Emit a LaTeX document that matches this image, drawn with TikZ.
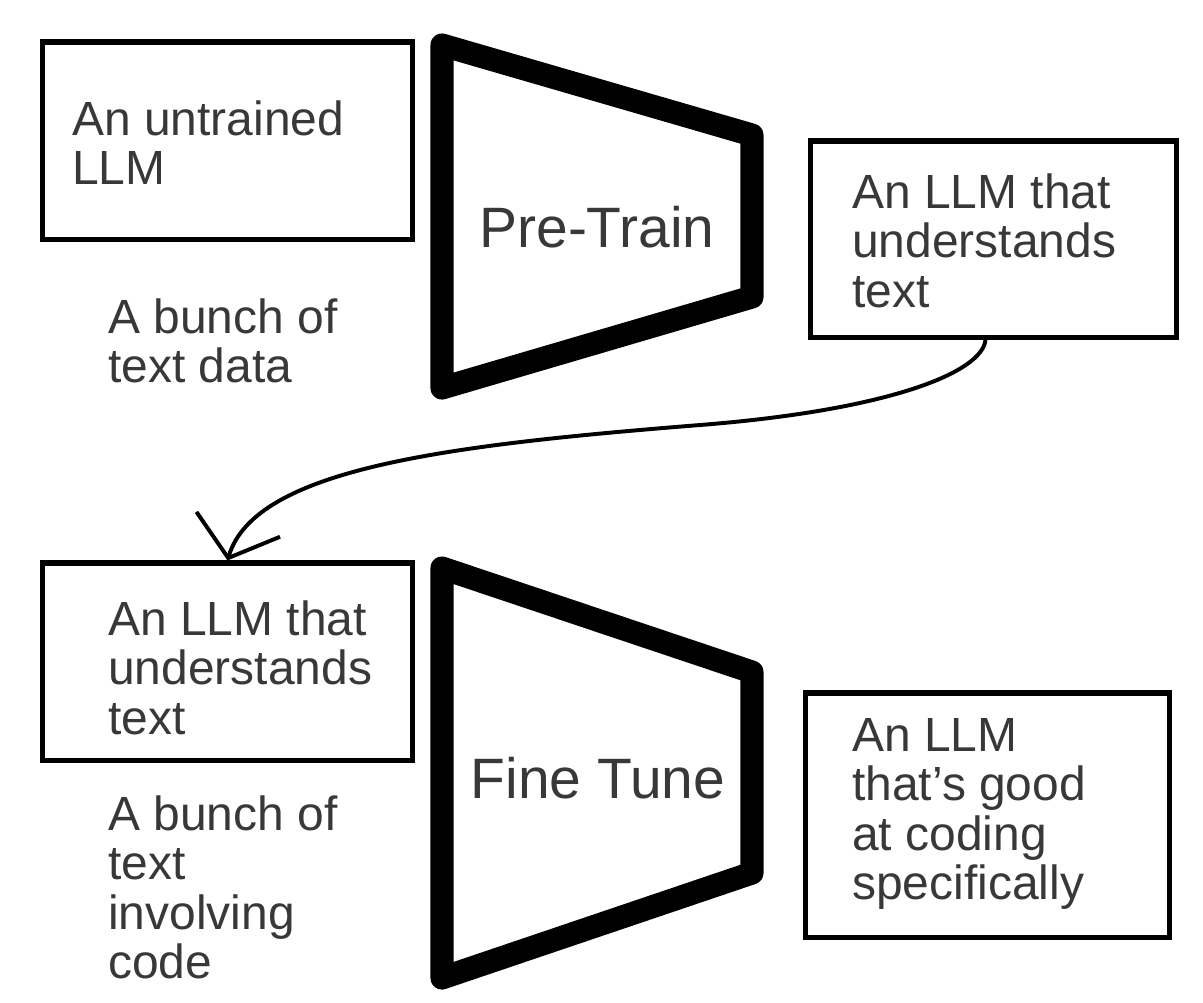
\documentclass[tikz,border=0pt]{standalone}
\usepackage{fontspec}
\setmainfont{Liberation Sans}
\usetikzlibrary{arrows.meta}
\definecolor{txtgray}{HTML}{383838}
\begin{document}
\begin{tikzpicture}[x=0.025cm, y=-0.025cm,
  box/.style={draw=black, line width=3.6pt, inner sep=0pt},
  lbl/.style={text=txtgray, align=left, inner sep=0pt, font=\fontsize{34.1}{35.2}\selectfont},
  big/.style={text=txtgray, inner sep=0pt, font=\fontsize{40.5}{48}\selectfont},
  trap/.style={draw=black, line width=16.4pt, line join=round},
  conn/.style={draw=black, line width=2.8pt, -{Straight Barb[length=25pt, width=62pt]}}]
\path[use as bounding box, fill=white] (0,0) rectangle (1203,1002);
% top row
\node[box, minimum width=9.225cm, minimum height=4.925cm] (b1) at (227.5,140.5) {};
\node[lbl, anchor=north west] (t1) at (72,100) {An untrained\\LLM};
\node[lbl, anchor=north west] (d1) at (108,298) {A bunch of\\text data};
\draw[trap] (442,45) -- (752,135) -- (752,297) -- (442,388) -- cycle;
\node[big, anchor=base] (pre) at (597,247) {Pre-Train};
\node[box, minimum width=9.125cm, minimum height=4.9cm] (b2) at (993.5,239) {};
\node[lbl, anchor=north west] (t2) at (852,173) {An LLM that\\understands\\text};
% bottom row
\node[box, minimum width=9.225cm, minimum height=4.925cm] (b3) at (227.5,661.5) {};
\node[lbl, anchor=north west] (t3) at (108,600) {An LLM that\\understands\\text};
\node[lbl, anchor=north west] (d2) at (108,795) {A bunch of\\text\\involving\\code};
\draw[trap] (442,568) -- (752,672) -- (752,873) -- (442,978) -- cycle;
\node[big, anchor=base] (fine) at (598,798) {Fine Tune};
\node[box, minimum width=9.075cm, minimum height=6.1cm] (b4) at (987.5,815) {};
\node[lbl, anchor=north west] (t4) at (852,718) {An LLM\\that's good\\at coding\\specifically};
% connector
\draw[conn] ([xshift=-0.2cm]b2.south) .. controls (983,372) and (890,410) .. (700,425)
  .. controls (450,445) and (255,468) .. (b3.north);
\end{tikzpicture}
\end{document}
